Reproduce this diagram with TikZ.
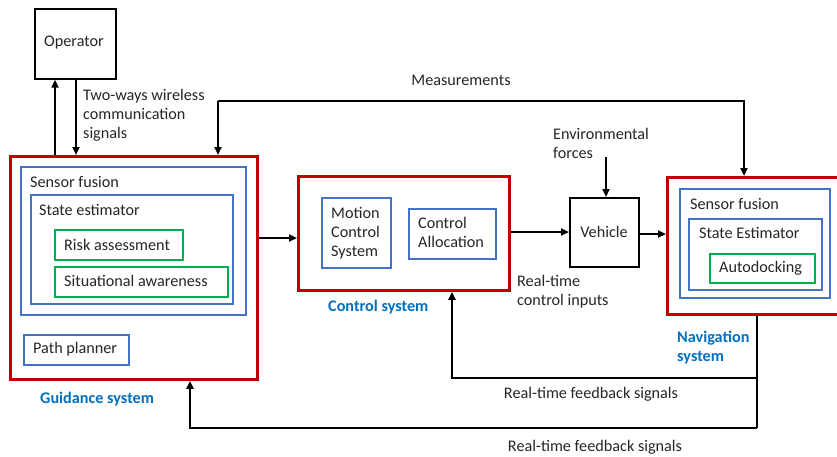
\documentclass[tikz,border=0pt]{standalone}
\usepackage{fontspec}
\setmainfont{Carlito}
\usetikzlibrary{arrows.meta,calc}
\definecolor{redb}{HTML}{C00000}
\definecolor{blueb}{HTML}{4472C4}
\definecolor{greenb}{HTML}{00B050}
\definecolor{bluet}{HTML}{0070C0}
\definecolor{txt}{HTML}{262626}
\begin{document}
\begin{tikzpicture}[x=1pt,y=-1pt,
  every node/.style={font=\fontsize{16.2}{19}\selectfont, text=txt, inner sep=0pt},
  box/.style={draw, anchor=north west, inner sep=0pt},
  redbox/.style={box, draw=redb, line width=2.8pt},
  bluebox/.style={box, draw=blueb, line width=1.5pt},
  greenbox/.style={box, draw=greenb, line width=1.5pt},
  blackbox/.style={box, draw=black, line width=1.7pt},
  lbl/.style={anchor=west, align=left},
  sysl/.style={anchor=west, align=left, text=bluet, font=\fontsize{16.2}{19}\selectfont\bfseries},
  arr/.style={draw=black, line width=2.2pt, -{Triangle[length=8pt,width=7pt]}},
  ln/.style={draw=black, line width=2.2pt}]
\useasboundingbox (0,0) rectangle (837,456);
\fill[white] (0,0) rectangle (837,456);

% Operator
\node[blackbox, minimum width=81pt, minimum height=70pt] (op) at (34,8) {};
\node (optxt) at (74,43) {Operator};

% Guidance system
\node[redbox, minimum width=247pt, minimum height=223pt] (guid) at (9,155) {};
\node[bluebox, minimum width=225pt, minimum height=148pt] (gsf) at (20,166) {};
\node[lbl] (gsftxt) at (30,182) {Sensor fusion};
\node[bluebox, minimum width=202pt, minimum height=109pt] (gse) at (30,194) {};
\node[lbl] (gsetxt) at (39,210) {State estimator};
\node[greenbox, minimum width=128pt, minimum height=30pt] (risk) at (54,229) {};
\node[lbl] (risktxt) at (64,245) {Risk assessment};
\node[greenbox, minimum width=173pt, minimum height=30pt] (sit) at (54,266) {};
\node[lbl] (sittxt) at (64,281) {Situational awareness};
\node[bluebox, minimum width=105pt, minimum height=30pt] (pp) at (23,334) {};
\node[lbl] (pptxt) at (33,349) {Path planner};
\node[sysl] (guidtxt) at (40,399) {Guidance system};

% Control system
\node[redbox, minimum width=211pt, minimum height=114pt] (ctrl) at (297,175) {};
\node[bluebox, minimum width=69pt, minimum height=70pt] (mcs) at (321,197) {};
\node[lbl] (mcstxt) at (331,233) {Motion\\Control\\System};
\node[bluebox, minimum width=87pt, minimum height=50pt] (ca) at (408,208) {};
\node[lbl] (catxt) at (418,232.5) {Control\\Allocation};
\node[sysl] (ctrltxt) at (328,307) {Control system};

% Vehicle
\node[blackbox, minimum width=69pt, minimum height=69pt] (veh) at (569,197) {};
\node (vehtxt) at (604,232) {Vehicle};
\node[lbl] (envtxt) at (553,143.5) {Environmental\\forces};
\coordinate (envtop) at (606,157);

% Navigation system
\node[redbox, minimum width=172pt, minimum height=137pt] (nav) at (666,176) {};
\node[bluebox, minimum width=150pt, minimum height=109pt] (nsf) at (679,188) {};
\node[lbl] (nsftxt) at (690,204) {Sensor fusion};
\node[bluebox, minimum width=133pt, minimum height=71pt] (nse) at (688,218) {};
\node[lbl] (nsetxt) at (699,233) {State Estimator};
\node[greenbox, minimum width=105pt, minimum height=29pt] (auto) at (709,253) {};
\node[lbl] (autotxt) at (719,268) {Autodocking};
\node[sysl] (navtxt) at (677,347.5) {Navigation\\system};

% Labels
\node[lbl] (twtxt) at (83,115) {Two-ways wireless\\communication\\signals};
\node (meastxt) at (461,80) {Measurements};
\node[lbl] (rtci) at (517,291.5) {Real-time\\control inputs};
\node (fb1) at (591,394) {Real-time feedback signals};
\node (fb2) at (595,447) {Real-time feedback signals};

% Connectors
\coordinate (xup) at (55,0);
\coordinate (xdn) at (76,0);
\draw[arr] (xup |- guid.north) -- (xup |- op.south);
\draw[arr] (xdn |- op.south) -- (xdn |- guid.north);

\coordinate (mL) at (218,101);
\coordinate (mR) at (744,101);
\draw[arr] (mL) -- (mR) -- (mR |- nav.north);
\draw[arr] (mL) -- (mL |- guid.north);

\draw[arr] (guid.east |- 0,238) -- (ctrl.west |- 0,238);
\draw[arr] (ctrl.east |- 0,232) -- (veh.west |- 0,232);
\draw[arr] (veh.east |- 0,234) -- (nav.west |- 0,234);
\draw[arr] (envtop) -- (envtop |- veh.north);

\coordinate (fbx) at (757,0);
\coordinate (fb1c) at (757,378);
\coordinate (fb2c) at (757,428);
\draw[ln] (fbx |- nav.south) -- (fb2c);
\draw[arr] (fb1c) -- (452,378) -- (452,378 |- ctrl.south);
\draw[arr] (fb2c) -- (190,428) -- (190,428 |- guid.south);
\end{tikzpicture}
\end{document}
